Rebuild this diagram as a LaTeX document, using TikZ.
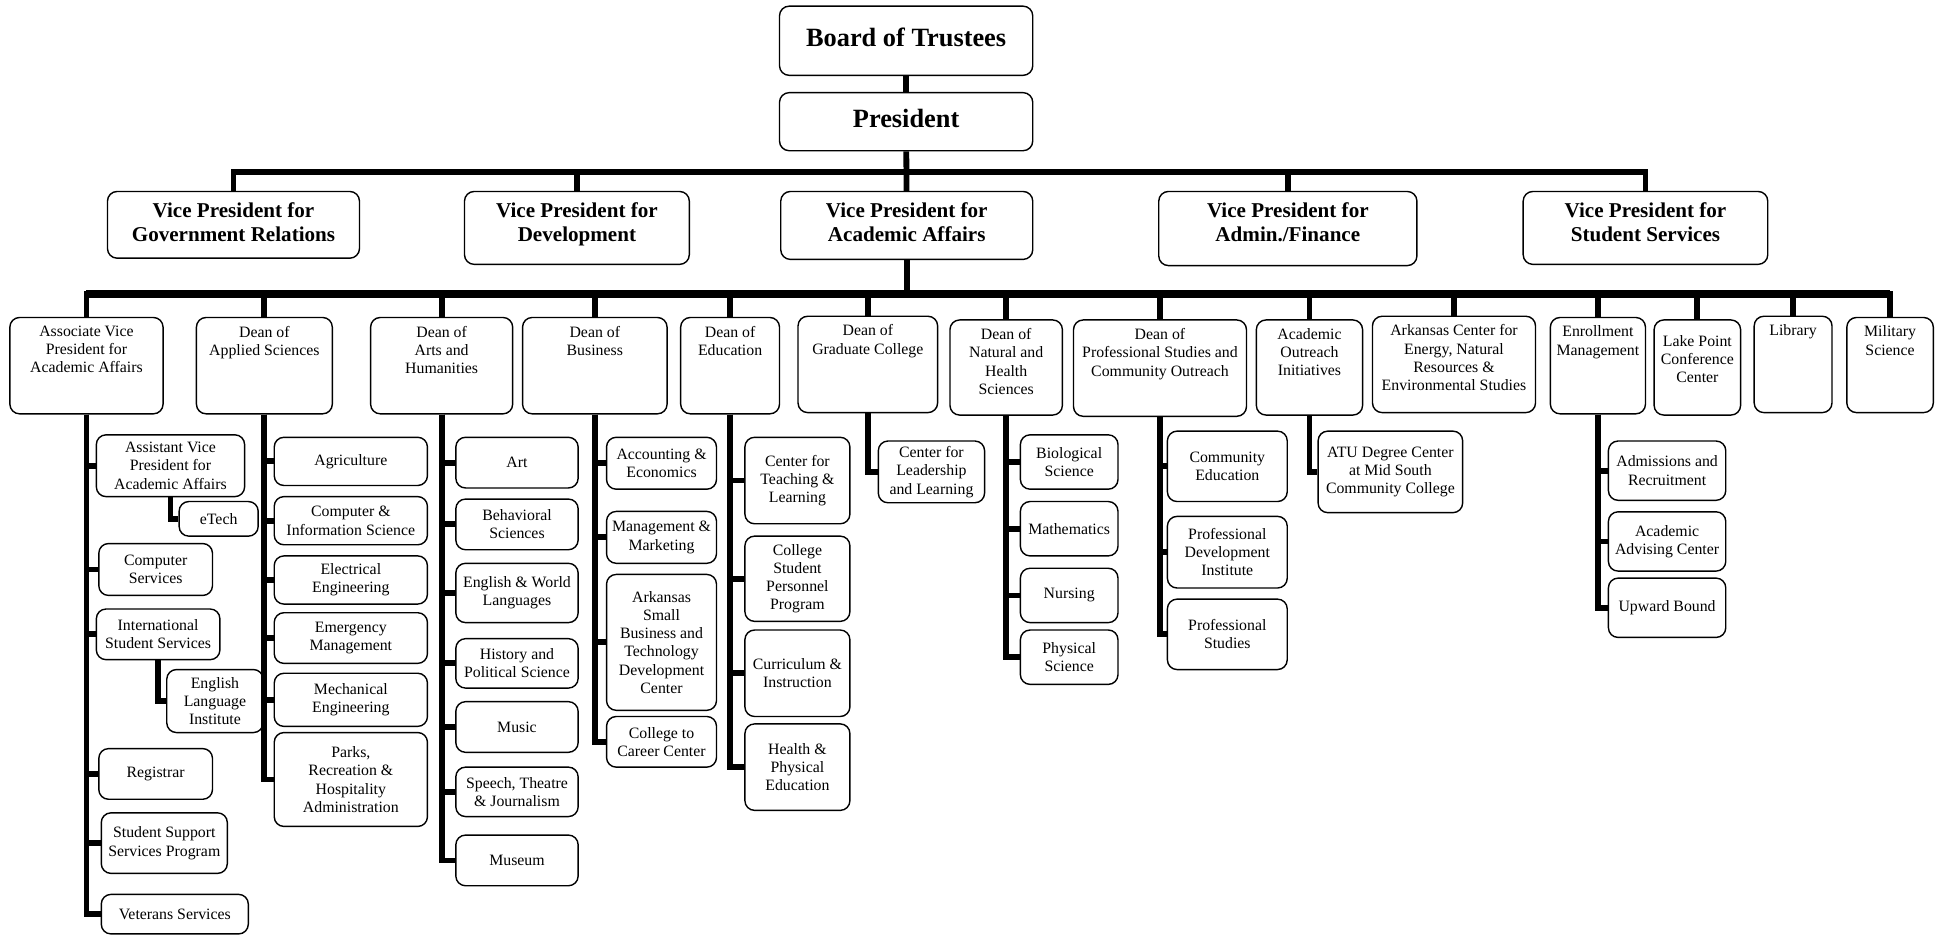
\documentclass[tikz,border=0pt]{standalone}
\usepackage{fontspec}
\setmainfont{Liberation Serif}
\usetikzlibrary{positioning}
\newcommand{\pxu}{0.0247cm}

\begin{document}
\begin{tikzpicture}[x=0.0247cm, y=-0.0247cm]
    \tikzstyle{unit}=[draw, rounded corners=5.5pt, line width=0.8pt, inner sep=1pt, align=center, font=\fontsize{9}{10.4}\selectfont]
    \tikzstyle{top unit}=[unit, text depth=4pt, font=\fontsize{15}{17}\selectfont\bfseries]
    \tikzstyle{vp text}=[inner sep=0pt, align=center, font=\fontsize{12}{14}\selectfont\bfseries]
    \tikzstyle{dean text}=[inner sep=0pt, align=center, font=\fontsize{9}{10.4}\selectfont]
    \tikzstyle{link}=[line width=3.3pt]
    \tikzstyle{bar}=[line width=4.4pt]
    \tikzset{boxsize/.style 2 args={minimum width=#1*\pxu, minimum height=#2*\pxu}}

    \useasboundingbox (0,0) rectangle (1568,757);
    \coordinate (bar1) at (0,139);
    \coordinate (bar2) at (0,238);

    % Board, president and vice presidents
    \node[top unit, boxsize={205}{56}] (BoT) at (733.5,33) {Board of Trustees};
    \node[top unit, boxsize={205}{47}] (P) at (733.5,98.5) {President};
    \node[unit, boxsize={204}{54}] (VP-1) at (189,182) {};
    \node[unit, boxsize={182}{59}] (VP-2) at (467,184.5) {};
    \node[unit, boxsize={204}{55}] (VP-3) at (734,182.5) {};
    \node[unit, boxsize={209}{60}] (VP-4) at (1042.5,185) {};
    \node[unit, boxsize={198}{59}] (VP-5) at (1332,184.5) {};
    \node[vp text, below=6.5pt of VP-1.north] (V-1) {Vice President for\\Government Relations};
    \node[vp text, below=6.5pt of VP-2.north] (V-2) {Vice President for\\Development};
    \node[vp text, below=6.5pt of VP-3.north] (V-3) {Vice President for\\Academic Affairs};
    \node[vp text, below=6.5pt of VP-4.north] (V-4) {Vice President for\\Admin./Finance};
    \node[vp text, below=6.5pt of VP-5.north] (V-5) {Vice President for\\Student Services};

    % Deans and units under academic affairs
    \node[unit, boxsize={124}{78}] (D-1) at (70,296) {};
    \node[unit, boxsize={110}{78}] (D-2) at (214,296) {};
    \node[unit, boxsize={115}{78}] (D-3) at (357.5,296) {};
    \node[unit, boxsize={117}{78}] (D-4) at (481.5,296) {};
    \node[unit, boxsize={80}{78}] (D-5) at (591,296) {};
    \node[unit, boxsize={113}{78}] (D-6) at (702.5,295) {};
    \node[unit, boxsize={91}{77}] (D-7) at (814.5,297.5) {};
    \node[unit, boxsize={140}{78}] (D-8) at (939,298) {};
    \node[unit, boxsize={86}{77}] (D-9) at (1060,297.5) {};
    \node[unit, boxsize={132}{78}] (D-10) at (1177,295) {};
    \node[unit, boxsize={77}{78}] (D-11) at (1293.5,296) {};
    \node[unit, boxsize={70}{77}] (D-12) at (1374,297.5) {};
    \node[unit, boxsize={63}{78}] (D-13) at (1451.5,295) {};
    \node[unit, boxsize={70}{77}] (D-14) at (1530,295.5) {};

    \node[dean text, below=5pt of D-1.north] (T-1) {Associate Vice\\President for\\Academic Affairs};
    \node[dean text, below=5pt of D-2.north] (T-2) {Dean of\\Applied Sciences};
    \node[dean text, below=5pt of D-3.north] (T-3) {Dean of\\Arts and\\Humanities};
    \node[dean text, below=5pt of D-4.north] (T-4) {Dean of\\Business};
    \node[dean text, below=5pt of D-5.north] (T-5) {Dean of\\Education};
    \node[dean text, below=5pt of D-6.north] (T-6) {Dean of\\Graduate College};
    \node[dean text, below=5pt of D-7.north] (T-7) {Dean of\\Natural and\\Health\\Sciences};
    \node[dean text, below=5pt of D-8.north] (T-8) {Dean of\\Professional Studies and\\Community Outreach};
    \node[dean text, below=5pt of D-9.north] (T-9) {Academic\\Outreach\\Initiatives};
    \node[dean text, below=5pt of D-10.north] (T-10) {Arkansas Center for\\Energy, Natural\\Resources \&\\Environmental Studies};
    \node[dean text, below=5pt of D-11.north] (T-11) {Enrollment\\Management};
    \node[dean text, below=9pt of D-12.north] (T-12) {Lake Point\\Conference\\Center};
    \node[dean text, below=5pt of D-13.north] (T-13) {Library};
    \node[dean text, below=5pt of D-14.north] (T-14) {Military\\Science};

    % Associate VP
    \node[unit, boxsize={120}{50}] (C1-1) at (138,377) {Assistant Vice\\President for\\Academic Affairs};
    \node[unit, boxsize={64}{28}] (S1-1) at (177,420) {eTech};
    \node[unit, boxsize={92}{42}] (C1-2) at (126,461) {Computer\\Services};
    \node[unit, boxsize={100}{41}] (C1-3) at (128,513.5) {International\\Student Services};
    \node[unit, boxsize={78}{51}] (S1-2) at (174,567.5) {English\\Language\\Institute};
    \node[unit, boxsize={92}{41}] (C1-4) at (126,626.5) {Registrar};
    \node[unit, boxsize={102}{49}] (C1-5) at (133,682.5) {Student Support\\Services Program};
    \node[unit, boxsize={119}{32}] (C1-6) at (141.5,740) {Veterans Services};

    % Applied Sciences
    \node[unit, boxsize={124}{39}] (C2-1) at (284,373.5) {Agriculture};
    \node[unit, boxsize={124}{39}] (C2-2) at (284,421.5) {Computer \&\\Information Science};
    \node[unit, boxsize={124}{39}] (C2-3) at (284,469.5) {Electrical\\Engineering};
    \node[unit, boxsize={124}{41}] (C2-4) at (284,516.5) {Emergency\\Management};
    \node[unit, boxsize={124}{43}] (C2-5) at (284,566.5) {Mechanical\\Engineering};
    \node[unit, boxsize={124}{76}] (C2-6) at (284,631) {Parks,\\Recreation \&\\Hospitality\\Administration};

    % Arts and Humanities
    \node[unit, boxsize={99}{41}] (C3-1) at (418.5,374.5) {Art};
    \node[unit, boxsize={99}{41}] (C3-2) at (418.5,424.5) {Behavioral\\Sciences};
    \node[unit, boxsize={99}{48}] (C3-3) at (418.5,480) {English \& World\\Languages};
    \node[unit, boxsize={99}{40}] (C3-4) at (418.5,537) {History and\\Political Science};
    \node[unit, boxsize={99}{41}] (C3-5) at (418.5,588.5) {Music};
    \node[unit, boxsize={99}{40}] (C3-6) at (418.5,641) {Speech, Theatre\\\& Journalism};
    \node[unit, boxsize={99}{41}] (C3-7) at (418.5,696.5) {Museum};

    % Business
    \node[unit, boxsize={89}{42}] (C4-1) at (535.5,375) {Accounting \&\\Economics};
    \node[unit, boxsize={89}{42}] (C4-2) at (535.5,435) {Management \&\\Marketing};
    \node[unit, boxsize={89}{110}] (C4-3) at (535.5,520) {Arkansas\\Small\\Business and\\Technology\\Development\\Center};
    \node[unit, boxsize={89}{41}] (C4-4) at (535.5,600.5) {College to\\Career Center};

    % Education
    \node[unit, boxsize={85}{70}] (C5-1) at (645.5,389) {Center for\\Teaching \&\\Learning};
    \node[unit, boxsize={85}{69}] (C5-2) at (645.5,468.5) {College\\Student\\Personnel\\Program};
    \node[unit, boxsize={85}{70}] (C5-3) at (645.5,545) {Curriculum \&\\Instruction};
    \node[unit, boxsize={85}{70}] (C5-4) at (645.5,621) {Health \&\\Physical\\Education};

    % Graduate College
    \node[unit, boxsize={86}{50}] (C6-1) at (754,382) {Center for\\Leadership\\and Learning};

    % Natural and Health Sciences
    \node[unit, boxsize={79}{44}] (C7-1) at (865.5,374) {Biological\\Science};
    \node[unit, boxsize={79}{44}] (C7-2) at (865.5,428) {Mathematics};
    \node[unit, boxsize={79}{44}] (C7-3) at (865.5,482) {Nursing};
    \node[unit, boxsize={79}{44}] (C7-4) at (865.5,532) {Physical\\Science};

    % Professional Studies
    \node[unit, boxsize={97}{57}] (C8-1) at (993.5,377.5) {Community\\Education};
    \node[unit, boxsize={97}{58}] (C8-2) at (993.5,447) {Professional\\Development\\Institute};
    \node[unit, boxsize={97}{57}] (C8-3) at (993.5,513.5) {Professional\\Studies};

    % Outreach
    \node[unit, boxsize={117}{66}] (C9-1) at (1125.5,382) {ATU Degree Center\\at Mid South\\Community College};

    % Enrollment
    \node[unit, boxsize={95}{48}] (C11-1) at (1349.5,381) {Admissions and\\Recruitment};
    \node[unit, boxsize={95}{48}] (C11-2) at (1349.5,438.3) {Academic\\Advising Center};
    \node[unit, boxsize={95}{48}] (C11-3) at (1349.5,492) {Upward Bound};

    % Connect the top levels
    \draw[link] (BoT) -- (P);
    \draw[link] (P) -- (VP-3);
    \draw[link] (VP-1) |- (P |- bar1) -| (VP-5);
    \draw[link] (VP-2) -- (VP-2 |- bar1);
    \draw[link] (VP-4) -- (VP-4 |- bar1);
    \draw[link] (VP-3) -- (VP-3 |- bar2);
    \draw[link] (D-1) |- (VP-3 |- bar2) -| (D-14);
    \draw[bar] (D-1 |- bar2) -- (D-14 |- bar2);
    \foreach \i in {2,...,13}
        \draw[link] (D-\i) -- (D-\i |- bar2);

    % Connect the units
    \foreach \c in {1,...,6}
        \draw[link] (D-1) |- (C1-\c);
    \draw[link] (C1-1) |- (S1-1);
    \draw[link] (C1-3) |- (S1-2);
    \foreach \c in {1,...,6}
        \draw[link] (D-2) |- (C2-\c);
    \foreach \c in {1,...,7}
        \draw[link] (D-3) |- (C3-\c);
    \foreach \c in {1,...,4}
        \draw[link] (D-4) |- (C4-\c);
    \foreach \c in {1,...,4}
        \draw[link] (D-5) |- (C5-\c);
    \draw[link] (D-6) |- (C6-1);
    \foreach \c in {1,...,4}
        \draw[link] (D-7) |- (C7-\c);
    \foreach \c in {1,...,3}
        \draw[link] (D-8) |- (C8-\c);
    \draw[link] (D-9) |- (C9-1);
    \foreach \c in {1,...,3}
        \draw[link] (D-11) |- (C11-\c);
\end{tikzpicture}
\end{document}
